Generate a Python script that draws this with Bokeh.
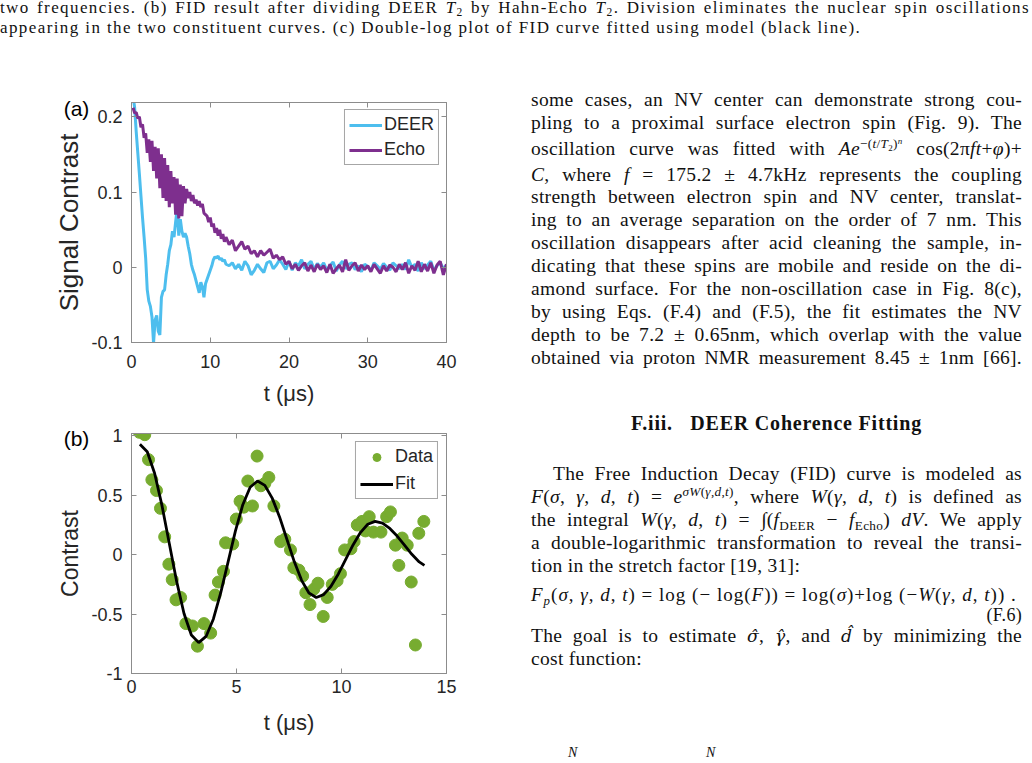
from bokeh.plotting import figure
from bokeh.models import Range1d, FixedTicker, LinearAxis, Label, Legend, LegendItem, Div
from bokeh.layouts import column, row
from bokeh.embed import file_html
from bokeh.resources import INLINE

# ---------------- data: panel (a) ----------------
t_a = [0.2, 0.4, 0.6, 0.8, 1.0, 1.2, 1.4, 1.6, 1.8, 2.0, 2.2, 2.4, 2.6, 2.8, 3.0, 3.2, 3.4, 3.6, 3.8, 4.0,
       4.2, 4.4, 4.6, 4.8, 5.0, 5.2, 5.4, 5.6, 5.8, 6.0, 6.2, 6.4, 6.6, 6.8, 7.0, 7.2, 7.4, 7.6, 7.8, 8.0,
       8.2, 8.4, 8.6, 8.8, 9.0, 9.2, 9.4, 9.6, 9.8, 10.0, 10.2, 10.4, 10.6, 10.8, 11.0, 11.2, 11.4, 11.6, 11.8, 12.0,
       12.4, 12.8, 13.2, 13.6, 14.0, 14.4, 14.8, 15.2, 15.6, 16.0, 16.4, 16.8, 17.2, 17.6, 18.0, 18.4, 18.8, 19.2,
       19.6, 20.0, 20.4, 20.8, 21.2, 21.6, 22.0, 22.4, 22.8, 23.2, 23.6, 24.0, 24.4, 24.8, 25.2, 25.6, 26.0, 26.4,
       26.8, 27.2, 27.6, 28.0, 28.4, 28.8, 29.2, 29.6, 30.0, 30.4, 30.8, 31.2, 31.6, 32.0, 32.4, 32.8, 33.2, 33.6,
       34.0, 34.4, 34.8, 35.2, 35.6, 36.0, 36.4, 36.8, 37.2, 37.6, 38.0, 38.4, 38.8, 39.2, 39.6, 40.0]

deer = [0.228, 0.212, 0.180, 0.152, 0.124, 0.095, 0.066, 0.040, 0.012, -0.030,
        -0.045, -0.052, -0.066, -0.101, -0.070, -0.064, -0.085, -0.090, -0.040, -0.032,
        -0.030, -0.010, 0.004, 0.022, 0.030, 0.048, 0.040, 0.060, 0.078, 0.042,
        0.064, 0.048, 0.040, 0.045, 0.040, 0.028, 0.018, 0.004, -0.004, -0.010,
        -0.018, -0.026, -0.034, -0.020, -0.026, -0.040, -0.022, -0.016, -0.010, -0.004,
        0.002, 0.010, 0.014, 0.012, 0.015, 0.010, 0.012, 0.008, 0.010, 0.004,
        0.002, 0.006, -0.002, 0.004, -0.004, 0.008, 0.002, -0.010, -0.004, 0.004,
        -0.002, -0.007, 0.006, 0.008, -0.002, 0.003, 0.010, 0.004, -0.003, 0.008,
        -0.004, 0.006, 0.002, 0.010, -0.002, 0.004, 0.008, -0.003, 0.005, 0.000,
        0.006, -0.004, 0.002, 0.007, -0.005, 0.003, 0.008, -0.002, 0.004, 0.006,
        -0.003, 0.002, -0.006, 0.004, 0.001, -0.004, 0.006, 0.002, -0.003, 0.005,
        0.000, -0.004, 0.006, 0.002, -0.002, 0.004, -0.003, 0.010, 0.000, 0.004,
        -0.005, 0.006, -0.002, 0.003, 0.008, -0.004, 0.002, 0.006, -0.002, 0.003]

echo = [0.212, 0.205, 0.206, 0.198, 0.200, 0.186, 0.190, 0.172, 0.178, 0.152,
        0.170, 0.140, 0.168, 0.128, 0.160, 0.118, 0.158, 0.105, 0.150, 0.092,
        0.145, 0.088, 0.136, 0.080, 0.128, 0.085, 0.120, 0.070, 0.118, 0.065,
        0.110, 0.068, 0.108, 0.085, 0.104, 0.092, 0.100, 0.088, 0.096, 0.085,
        0.090, 0.082, 0.088, 0.080, 0.084, 0.072, 0.070, 0.068, 0.060, 0.066,
        0.054, 0.058, 0.046, 0.052, 0.042, 0.050, 0.038, 0.044, 0.034, 0.040,
        0.030, 0.036, 0.022, 0.028, 0.034, 0.024, 0.028, 0.018, 0.022, 0.014,
        0.022, 0.016, 0.020, 0.024, 0.012, 0.016, 0.010, 0.014, 0.004, 0.008,
        -0.002, 0.004, -0.004, 0.002, 0.006, -0.005, 0.003, -0.006, 0.004, -0.003,
        0.002, -0.007, 0.004, -0.008, -0.002, 0.003, -0.006, 0.010, -0.004, 0.002,
        0.006, -0.005, 0.003, -0.003, 0.002, -0.006, 0.004, -0.002, -0.008, 0.002,
        -0.005, 0.003, 0.000, -0.006, 0.004, -0.003, 0.006, -0.008, 0.002, -0.004,
        0.008, -0.006, 0.004, -0.005, 0.006, -0.008, 0.003, 0.008, -0.010, 0.004]

xticks_a = [0, 10, 20, 30, 40]
yticks_a = [-0.1, 0, 0.1, 0.2]
ylabels_a = ["-0.1", "0", "0.1", "0.2"]

# ---------------- data: panel (b) ----------------
t_b = [0.38, 0.63, 0.81, 0.97, 1.19, 1.38, 1.58, 1.78, 1.94, 2.12, 2.34, 2.59, 2.90, 3.14, 3.45,
       3.77, 3.98, 4.14, 4.38, 4.48, 4.82, 4.99, 5.17, 5.35, 5.54, 5.76, 5.98, 6.16, 6.35, 6.54,
       6.78, 7.10, 7.30, 7.57, 7.73, 7.97, 8.15, 8.30, 8.50, 8.68, 8.88, 9.13, 9.32, 9.56, 9.79,
       9.95, 10.15, 10.45, 10.60, 10.75, 10.98, 11.14, 11.32, 11.52, 11.88, 12.15, 12.33, 12.57,
       12.73, 12.89, 13.13, 13.32, 13.52, 13.68, 13.92]
contrast_b = [1.03, 1.01, 0.80, 0.63, 0.54, 0.39, 0.15, -0.08, -0.21, -0.38, -0.36, -0.58, -0.60, -0.77, -0.58,
              -0.66, -0.34, -0.23, -0.14, 0.10, 0.09, 0.30, 0.45, 0.40, 0.62, 0.41, 0.83, 0.58, 0.60, 0.65,
              0.41, 0.11, 0.13, 0.04, -0.11, -0.13, -0.18, -0.32, -0.42, -0.29, -0.24, -0.52, -0.36, -0.25, -0.22,
              -0.16, 0.04, 0.05, 0.11, 0.25, 0.28, 0.20, 0.32, 0.19, 0.19, 0.32, 0.36, 0.08,
              -0.09, 0.14, 0.08, -0.23, -0.76, 0.18, 0.28]

t_fit = [0.40, 0.75, 1.10, 1.45, 1.80, 2.15, 2.50, 2.85, 3.20, 3.55, 3.90, 4.25, 4.60, 4.95, 5.30,
         5.65, 6.00, 6.35, 6.70, 7.05, 7.40, 7.75, 8.10, 8.45, 8.80, 9.15, 9.50, 9.85, 10.20, 10.55,
         10.90, 11.25, 11.60, 11.95, 12.30, 12.65, 13.00, 13.35, 13.70, 13.95]
fit_b = [0.930, 0.866, 0.685, 0.415, 0.095, -0.225, -0.495, -0.676, -0.740, -0.688, -0.541, -0.320,
         -0.060, 0.200, 0.421, 0.568, 0.620, 0.583, 0.476, 0.318, 0.130, -0.058, -0.216, -0.323,
         -0.360, -0.336, -0.266, -0.162, -0.040, 0.082, 0.186, 0.256, 0.280, 0.265, 0.221, 0.157,
         0.080, 0.003, -0.061, -0.090]

xticks_b = [0, 5, 10, 15]
yticks_b = [-1, -0.5, 0, 0.5, 1]
ylabels_b = ["-1", "-0.5", "0", "0.5", "1"]

# ---------------- styling ----------------
FONT = "Liberation Sans"
AXC = "#8c8c8c"
TXT = "#262626"
C_DEER = "#4DBEEE"
C_ECHO = "#7E2F8E"
C_DATA = "#77AC30"


def base_fig(w, h, xr, yr, mb):
    p = figure(width=w, height=h, x_range=Range1d(*xr), y_range=Range1d(*yr),
               output_backend="svg", toolbar_location=None,
               min_border_left=mb[0], min_border_right=mb[1],
               min_border_top=mb[2], min_border_bottom=mb[3])
    p.grid.visible = False
    p.outline_line_color = AXC
    p.outline_line_width = 1
    p.background_fill_color = "white"
    p.border_fill_color = "white"
    return p


def style_axis(ax, ticks, labels):
    ax.ticker = FixedTicker(ticks=ticks)
    ax.major_label_overrides = dict(zip(ticks, labels))
    ax.axis_line_color = AXC
    ax.major_tick_line_color = AXC
    ax.major_tick_in = 5
    ax.major_tick_out = 0
    ax.minor_tick_line_color = None
    ax.major_label_text_font = FONT
    ax.major_label_text_font_size = "18px"
    ax.major_label_text_color = TXT
    ax.axis_label_text_font = FONT
    ax.axis_label_text_font_style = "normal"
    ax.axis_label_text_color = TXT


def decorate(p, xt, xl, yt, yl, xlabel, ylabel, ylab_size, xstand, ystand, xlab_stand, ylab_stand):
    style_axis(p.xaxis[0], xt, xl)
    style_axis(p.yaxis[0], yt, yl)
    p.xaxis[0].axis_label = xlabel
    p.yaxis[0].axis_label = ylabel
    p.xaxis[0].axis_label_text_font_size = "22px"
    p.yaxis[0].axis_label_text_font_size = ylab_size
    p.xaxis[0].major_label_standoff = xstand
    p.yaxis[0].major_label_standoff = ystand
    p.xaxis[0].axis_label_standoff = xlab_stand
    p.yaxis[0].axis_label_standoff = ylab_stand
    top = LinearAxis()
    style_axis(top, xt, [""] * len(xt))
    top.major_label_standoff = 0
    p.add_layout(top, "above")
    right = LinearAxis()
    style_axis(right, yt, [""] * len(yt))
    right.major_label_standoff = 0
    p.add_layout(right, "right")


def style_legend(lg, margin, spacing):
    lg.location = "top_right"
    lg.label_text_font = FONT
    lg.label_text_font_size = "18px"
    lg.label_text_color = TXT
    lg.border_line_color = "#4d4d4d"
    lg.border_line_width = 1
    lg.background_fill_color = "white"
    lg.background_fill_alpha = 1
    lg.padding = 4
    lg.spacing = spacing
    lg.margin = margin
    lg.glyph_width = 33
    lg.glyph_height = 20
    lg.label_height = 20
    lg.label_standoff = 2


# ---------------- panel (a) ----------------
pa = base_fig(490, 360, (0, 40), (-0.1, 0.219), (131, 44, 52, 68))
r_deer = pa.line(t_a, deer, line_color=C_DEER, line_width=3)
r_echo = pa.line(t_a, echo, line_color=C_ECHO, line_width=3)
decorate(pa, xticks_a, [str(v) for v in xticks_a], yticks_a, ylabels_a,
         "t (μs)", "Signal Contrast", "26px", 12, 9, 10, 4)
lga = Legend(items=[LegendItem(label="DEER", renderers=[r_deer]),
                    LegendItem(label="Echo", renderers=[r_echo])])
style_legend(lga, 7, 4)
pa.add_layout(lga)
pa.add_layout(Label(x=-6.98, y=0.2116, text="(a)", text_font=FONT, text_font_size="21px",
                    text_color="black", text_align="center", text_baseline="middle"), "left")

# ---------------- panel (b) ----------------
pb = base_fig(490, 353, (0, 15), (-1, 1.02), (131, 44, 23, 90))
r_data = pb.scatter(t_b, contrast_b, size=12, fill_color=C_DATA, line_color=C_DATA)
r_fit = pb.line(t_fit, fit_b, line_color="black", line_width=2.8)
decorate(pb, xticks_b, [str(v) for v in xticks_b], yticks_b, ylabels_b,
         "t (μs)", "Contrast", "23px", 6, 9, 14, 5)
lgb = Legend(items=[LegendItem(label="Data", renderers=[r_data]),
                    LegendItem(label="Fit", renderers=[r_fit])])
style_legend(lgb, 8, 6)
pb.add_layout(lgb)
pb.add_layout(Label(x=-2.62, y=0.98, text="(b)", text_font=FONT, text_font_size="21px",
                    text_color="black", text_align="center", text_baseline="middle"), "left")

# ---------------- page text ----------------
CSS = ("<style>sup{font-size:0.68em;line-height:0;vertical-align:0.5em}"
       "sub{font-size:0.68em;line-height:0;vertical-align:-0.3em}</style>")


def ln(html, top, left=41, width=491, mode="justify", size=19.5, lh=22, weight="normal", ls=0.3):
    if mode == "justify":
        al = "text-align:justify;text-align-last:justify;"
    else:
        al = "text-align:%s;white-space:nowrap;" % mode
    return ('<div style="position:absolute;left:%spx;top:%spx;width:%spx;line-height:%spx;'
            'font-size:%spx;font-weight:%s;letter-spacing:%spx;%s">%s</div>'
            % (left, top, width, lh, size, weight, ls, al, html))


def I(s):
    return "<i>%s</i>" % s


def hat(s):
    return ('<span style="font-family:\'DejaVu Serif\',serif;font-style:italic;font-size:0.88em">%s\u0302</span>' % s)


cap = CSS + '<div style="position:relative;width:1032px;height:50px;font-family:\'Liberation Serif\',serif;color:#111;">'
cap += ln("two frequencies. (b) FID result after dividing DEER <i>T</i><sub>2</sub> by Hahn-Echo "
          "<i>T</i><sub>2</sub>. Division eliminates the nuclear spin oscillations", -2, 0, 1030, "justify", 17, 20,
          "normal", 1.4)
cap += ln("appearing in the two constituent curves. (c) Double-log plot of FID curve fitted using model "
          "(black line).", 18, 0, 1030, "left", 17, 20, "normal", 1.4)
cap += "</div>"
caption_div = Div(text=cap, width=1032, height=50, margin=0)

args = "(%s, %s, %s, %s)" % (I("σ"), I("γ"), I("d"), I("t"))
wargs = "(%s, %s, %s)" % (I("γ"), I("d"), I("t"))
body = [
    ("some cases, an NV center can demonstrate strong cou-", 39),
    ("pling to a proximal surface electron spin (Fig. 9). The", 62),
    ("oscillation curve was fitted with " + I("Ae") + "<sup>−(" + I("t") + "/" + I("T") +
     "<sub>2</sub>)<sup>" + I("n") + "</sup></sup> cos(2π" + I("ft") + "+" + I("φ") + ")+", 88),
    (I("C") + ", where " + I("f") + " = 175.2 ± 4.7kHz represents the coupling", 114),
    ("strength between electron spin and NV center, translat-", 136),
    ("ing to an average separation on the order of 7 nm. This", 159),
    ("oscillation disappears after acid cleaning the sample, in-", 182),
    ("dicating that these spins are mobile and reside on the di-", 205),
    ("amond surface. For the non-oscillation case in Fig. 8(c),", 228),
    ("by using Eqs. (F.4) and (F.5), the fit estimates the NV", 251),
    ("depth to be 7.2 ± 0.65nm, which overlap with the value", 274),
    ("obtained via proton NMR measurement 8.45 ± 1nm [66].", 297),
]
txt = CSS + '<div style="position:relative;width:542px;height:713px;font-family:\'Liberation Serif\',serif;color:#111;">'
for h, tp in body:
    txt += ln(h, tp)
txt += ln("F.iii.&nbsp;&nbsp;&nbsp;DEER Coherence Fitting", 362, 41, 491, "center", 20, 22, "bold", 0.8)
txt += ln("The Free Induction Decay (FID) curve is modeled as", 413, 63, 469)
txt += ln(I("F") + args + " = " + I("e") + "<sup>" + I("σW") + "(" + I("γ") + "," + I("d") + "," + I("t") +
          ")</sup>, where " + I("W") + wargs + " is defined as", 436)
txt += ln("the integral " + I("W") + wargs + " = ∫(" + I("f") + "<sub>DEER</sub> − " + I("f") +
          "<sub>Echo</sub>) " + I("dV") + ". We apply", 459)
txt += ln("a double-logarithmic transformation to reveal the transi-", 482)
txt += ln("tion in the stretch factor [19, 31]:", 505, 41, 491, "left")
txt += ln(I("F") + "<sub>" + I("p") + "</sub>" + args + " = log (− log(" + I("F") + ")) = log(" + I("σ") +
          ")+log (−" + I("W") + wargs + ") .", 535, 41, 500, "left", 19, 20, "normal", 1.0)
txt += ln("(F.6)", 556, 41, 491, "right", 18, 18, "normal", 0.3)
txt += ln("The goal is to estimate " + hat("σ") + ", " + hat("γ") + ", and " + hat("d") + " by minimizing the", 575)
txt += ln("cost function:", 598, 41, 491, "left")
txt += ln(I("N"), 692, 78, 20, "left", 14, 22, "normal", 0)
txt += ln(I("N"), 692, 216, 20, "left", 14, 22, "normal", 0)
txt += "</div>"
text_div = Div(text=txt, width=542, height=713, margin=0)

layout = column(caption_div, row(column(pa, pb), text_div))
open("out.html", "w").write(file_html(layout, INLINE))
